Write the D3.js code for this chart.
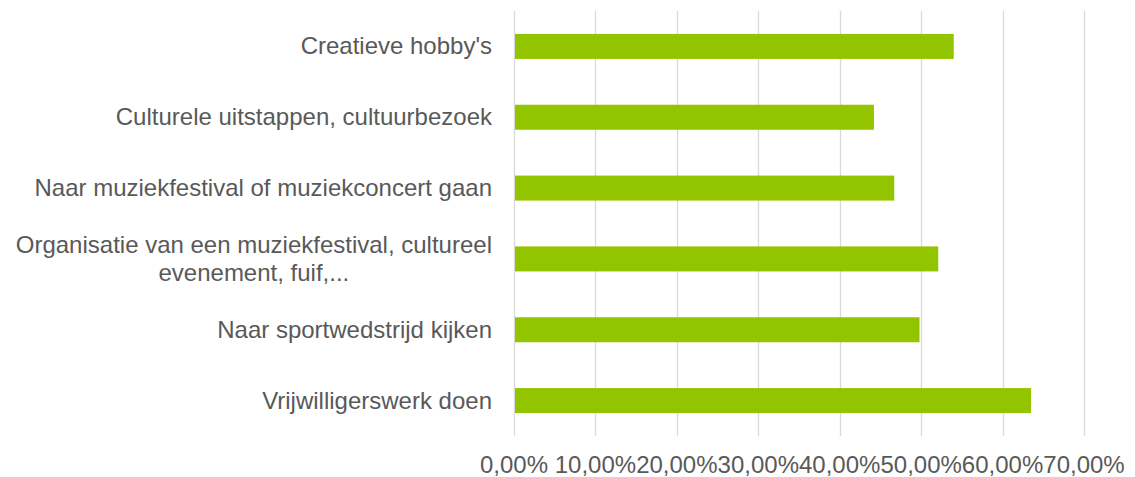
<!DOCTYPE html>
<html>
<head>
<meta charset="utf-8">
<script src="https://cdn.jsdelivr.net/npm/d3@7"></script>
<style>
  body { margin: 0; background: #fff; }
  text { font-family: "Liberation Sans", Arial, sans-serif; fill: #595959; }
</style>
</head>
<body>
<svg id="chart" width="1135" height="477"></svg>
<script>
// categories top to bottom, long one wrapped like in the source
const categories = [
    "Creatieve hobby's",
    "Culturele uitstappen, cultuurbezoek",
    "Naar muziekfestival of muziekconcert gaan",
    "Organisatie van een muziekfestival, cultureel\nevenement, fuif,...",
    "Naar sportwedstrijd kijken",
    "Vrijwilligerswerk doen"
];
const values = [0.540, 0.442, 0.467, 0.521, 0.498, 0.635];
const tickValues = [0, 0.1, 0.2, 0.3, 0.4, 0.5, 0.6, 0.7];

const svg = d3.select("#chart");
const plotLeft = 514, plotRight = 1084, plotTop = 11, plotBottom = 436;
const fontSize = 24;

const x = d3.scaleLinear().domain([0, 0.7]).range([plotLeft, plotRight]);
const y = d3.scaleBand().domain(categories).range([plotTop, plotBottom]).paddingInner(0.647).paddingOuter(0.3235);

// gridlines
svg.append("g")
    .selectAll("line")
    .data(tickValues)
    .enter()
    .append("line")
    .attr("x1", d => Math.round(x(d)) + 0.5)
    .attr("x2", d => Math.round(x(d)) + 0.5)
    .attr("y1", plotTop)
    .attr("y2", plotBottom)
    .attr("stroke", "#d9d9d9")
    .attr("stroke-width", 1.3);

// bars
svg.append("g")
    .selectAll("rect")
    .data(categories)
    .enter()
    .append("rect")
    .attr("x", x(0) + 1)
    .attr("y", d => y(d))
    .attr("width", (d, i) => x(values[i]) - x(0) - 1)
    .attr("height", y.bandwidth())
    .attr("fill", "#92c500");

// x tick labels
const fmt = v => (v * 100).toFixed(2).replace(".", ",") + "%";
svg.append("g")
    .selectAll("text")
    .data(tickValues)
    .enter()
    .append("text")
    .attr("x", d => x(d))
    .attr("y", 473)
    .attr("text-anchor", "middle")
    .style("font-size", fontSize + "px")
    .text(fmt);

// category labels
const labelRight = 492;
const lineHeight = 28;
categories.forEach(cat => {
    const lines = cat.split("\n");
    const cy = y(cat) + y.bandwidth() / 2;
    const t = svg.append("text")
        .style("font-size", fontSize + "px")
        .attr("text-anchor", lines.length > 1 ? "middle" : "end");
    lines.forEach((ln, i) => {
        t.append("tspan")
            .attr("x", labelRight)
            .attr("y", cy + (i - (lines.length - 1) / 2) * lineHeight)
            .attr("dy", "0.33em")
            .text(ln);
    });
    if (lines.length > 1) {
        // center the block under its widest line, right edge on labelRight
        const w = d3.max(t.selectAll("tspan").nodes(), n => n.getComputedTextLength());
        t.selectAll("tspan").attr("x", labelRight - w / 2);
    }
});
</script>
</body>
</html>
